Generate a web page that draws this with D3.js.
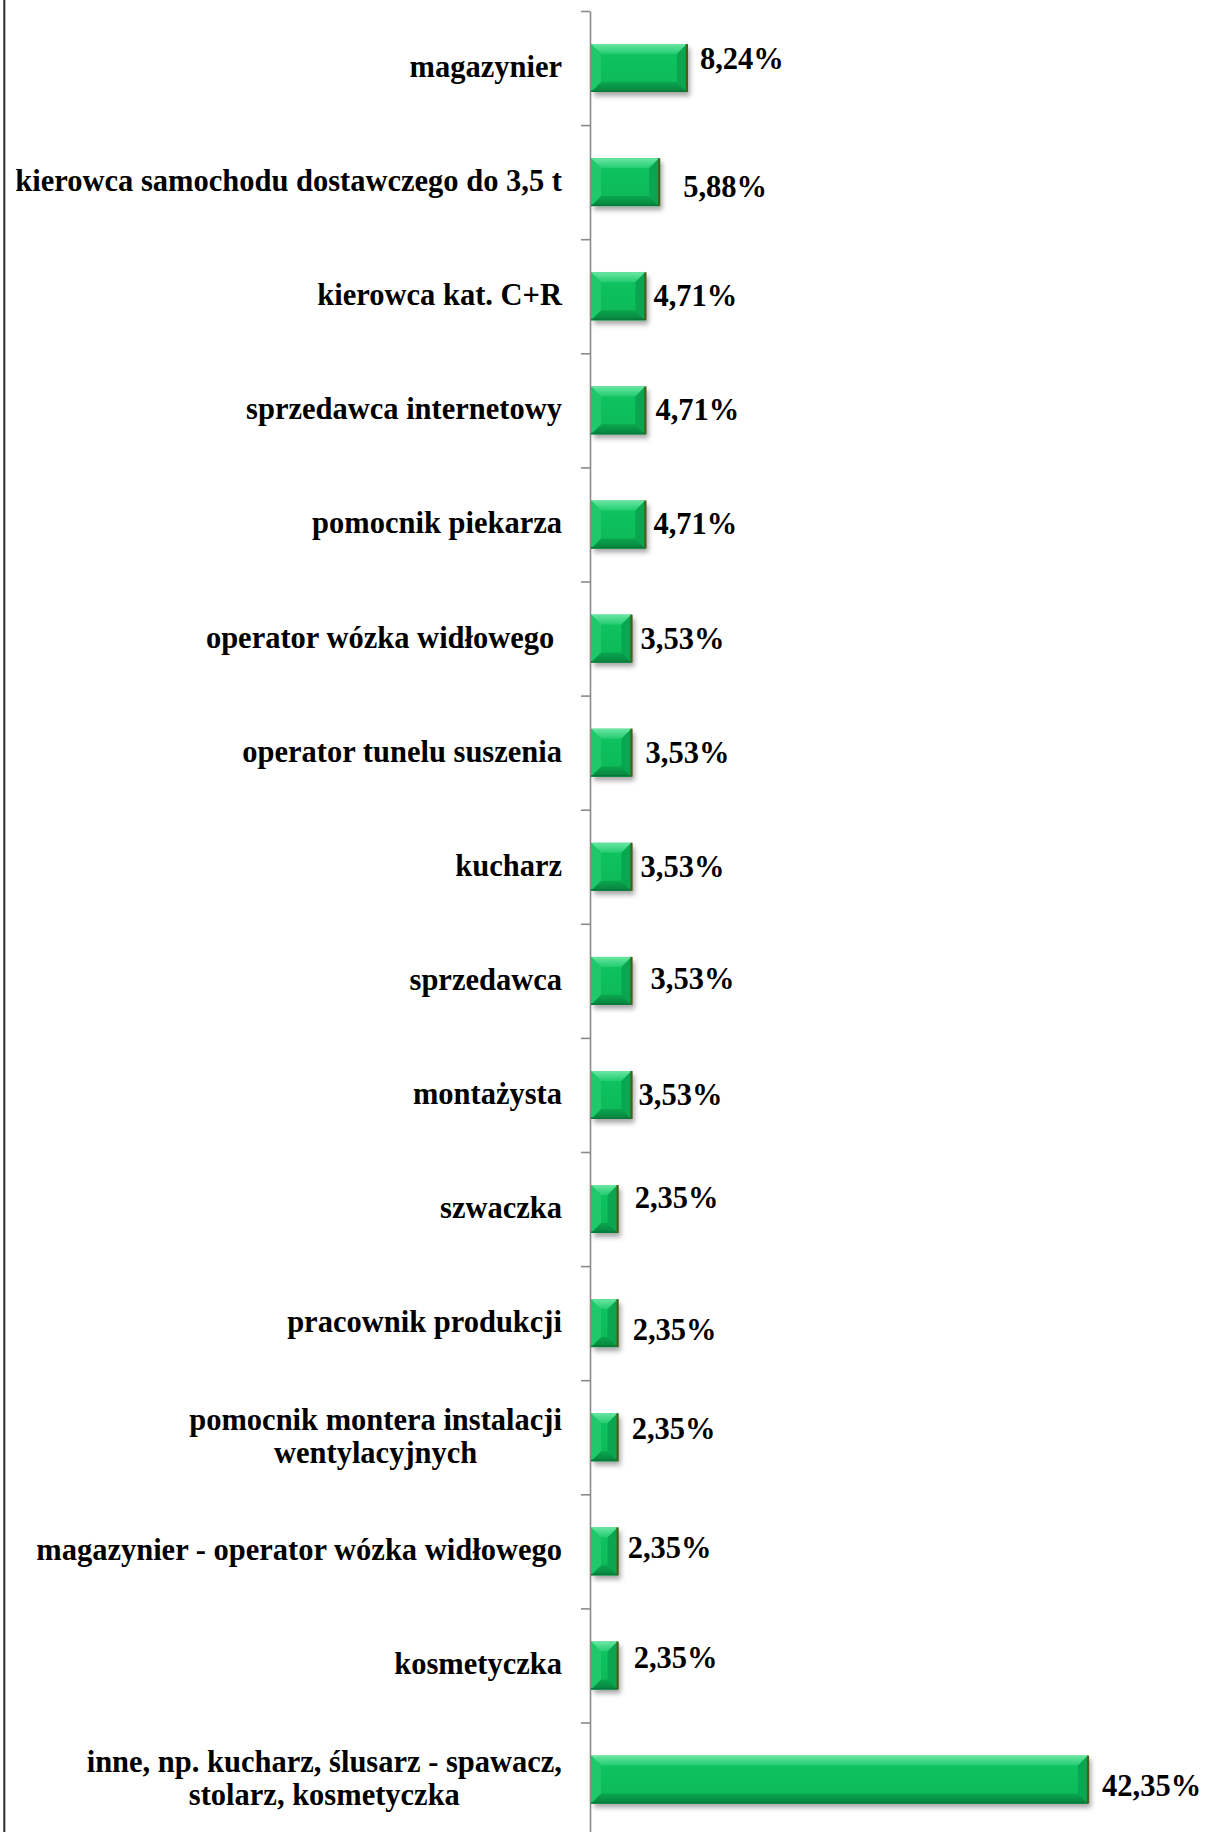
<!DOCTYPE html>
<html>
<head>
<meta charset="utf-8">
<script src="https://cdn.jsdelivr.net/npm/d3@7"></script>
<style>
  body { margin: 0; background: #fff; }
  text { font-family: "Liberation Serif", "Times New Roman", serif; font-weight: bold; fill: #000; }
</style>
</head>
<body>
<svg id="chart" width="1214" height="1832"></svg>
<script>
'use strict';

var categories = [
  'magazynier',
  'kierowca samochodu dostawczego do 3,5 t',
  'kierowca kat. C+R',
  'sprzedawca internetowy',
  'pomocnik piekarza',
  'operator wózka widłowego ',
  'operator tunelu suszenia',
  'kucharz',
  'sprzedawca',
  'montażysta',
  'szwaczka',
  'pracownik produkcji',
  'pomocnik montera instalacji\nwentylacyjnych',
  'magazynier - operator wózka widłowego',
  'kosmetyczka',
  'inne, np. kucharz, ślusarz - spawacz,\nstolarz, kosmetyczka'
];

var values = [8.24, 5.88, 4.71, 4.71, 4.71, 3.53, 3.53, 3.53, 3.53, 3.53, 2.35, 2.35, 2.35, 2.35, 2.35, 42.35];

// data labels were dragged around by hand in the original, [gap, dy]
var labelNudge = [[13, -9], [24, 5], [8, 0], [10, 0], [8, 0], [9, 0], [14, 0], [9, 0],
  [19, -2], [7, 0], [17, -11], [15, 7], [14, -8], [10, -3], [16, -7], [14, 6]];

var axisX = 590,
  plotTop = 11,
  step = 114.1,
  fontSize = 30.5,
  bevel = 10;

var svg = d3.select('#chart');
var defs = svg.append('defs');

function vGrad(id, c0, c1) {
  var gr = defs.append('linearGradient').attr('id', id)
    .attr('x1', 0).attr('y1', 0).attr('x2', 0).attr('y2', 1);
  gr.append('stop').attr('offset', '0%').attr('stop-color', c0);
  gr.append('stop').attr('offset', '100%').attr('stop-color', c1);
}
vGrad('gMain', '#12c562', '#0bb856');
vGrad('gTop', '#6ae6a3', '#22cc70');
vGrad('gBottom', '#0aa64f', '#07823e');

var shadow = defs.append('filter').attr('id', 'shadow')
  .attr('x', '-20%').attr('y', '-20%').attr('width', '150%').attr('height', '160%');
shadow.append('feDropShadow')
  .attr('dx', 3).attr('dy', 4).attr('stdDeviation', 2.5)
  .attr('flood-color', '#000').attr('flood-opacity', 0.35);

var y = d3.scaleBand()
  .domain(categories)
  .range([plotTop, plotTop + categories.length * step])
  .paddingInner(0.58)
  .paddingOuter(0.29);

var x = d3.scaleLinear()
  .domain([0, d3.max(values)])
  .range([0, 498]);

// left border of the plot frame
svg.append('line')
  .attr('x1', 4.3).attr('x2', 4.3)
  .attr('y1', 0).attr('y2', 1832)
  .attr('stroke', '#2b2b2b')
  .attr('stroke-width', 2);

// category axis, ticks sit between categories
var tickScale = d3.scaleLinear()
  .domain([0, categories.length])
  .range([plotTop, plotTop + categories.length * step]);

var axis = svg.append('g')
  .attr('transform', 'translate(' + axisX + ',0)')
  .call(d3.axisLeft(tickScale)
    .tickValues(d3.range(categories.length + 1))
    .tickSize(9)
    .tickSizeOuter(0)
    .tickFormat(''));
axis.selectAll('path, line')
  .attr('stroke', '#8a8a8a')
  .attr('stroke-width', 1.6);

// bars
var bars = svg.append('g').selectAll('g')
  .data(categories)
  .enter().append('g')
  .attr('class', 'bar');

bars.each(function(d, i) {
  var g = d3.select(this);
  var x0 = axisX + 1,
    x1 = axisX + x(values[i]),
    y0 = y(d),
    y1 = y(d) + y.bandwidth();
  var b = Math.min(bevel, (x1 - x0) / 2, (y1 - y0) / 2);

  g.append('rect')
    .attr('x', x0).attr('y', y0)
    .attr('width', x1 - x0).attr('height', y1 - y0)
    .attr('fill', 'url(#gMain)')
    .attr('filter', 'url(#shadow)');

  var faces = [
    { pts: [[x0, y0], [x1, y0], [x1 - b, y0 + b], [x0 + b, y0 + b]], fill: 'url(#gTop)' },
    { pts: [[x0, y1], [x1, y1], [x1 - b, y1 - b], [x0 + b, y1 - b]], fill: 'url(#gBottom)' },
    { pts: [[x0, y0], [x0 + b, y0 + b], [x0 + b, y1 - b], [x0, y1]], fill: '#1fc86b' },
    { pts: [[x1, y0], [x1 - b, y0 + b], [x1 - b, y1 - b], [x1, y1]], fill: '#0aa550' }
  ];
  g.selectAll('polygon')
    .data(faces)
    .enter().append('polygon')
    .attr('points', function(f) { return f.pts.join(' '); })
    .attr('fill', function(f) { return f.fill; });

  g.append('rect')
    .attr('x', x0).attr('y', y1 - 1.5)
    .attr('width', x1 - x0).attr('height', 1.5)
    .attr('fill', '#07793a');

  g.append('line')
    .attr('x1', x1).attr('x2', x1)
    .attr('y1', y0).attr('y2', y1)
    .attr('stroke', '#4a5e18')
    .attr('stroke-width', 2.2);
});

// value labels
var fmt = d3.format('.2f');
svg.append('g').selectAll('text')
  .data(categories)
  .enter().append('text')
  .attr('x', function(d, i) { return axisX + x(values[i]) + labelNudge[i][0]; })
  .attr('y', function(d, i) { return y(d) + y.bandwidth() / 2 + labelNudge[i][1] + 10; })
  .style('font-size', fontSize + 'px')
  .text(function(d, i) { return fmt(values[i]).replace('.', ',') + '%'; });

// category labels, right aligned, extra lines centred under the first
var labelRight = 562,
  lineH = 33;

svg.append('g').selectAll('text')
  .data(categories)
  .enter().append('text')
  .style('font-size', fontSize + 'px')
  .style('white-space', 'pre')
  .each(function(d) {
    var t = d3.select(this);
    var lines = d.split('\n');
    var cy = y(d) + y.bandwidth() / 2 + 9 - (lines.length - 1) * lineH / 2;
    if (lines.length === 1) {
      t.attr('text-anchor', 'end').attr('x', labelRight).attr('y', cy).text(d);
      return;
    }
    var spans = t.selectAll('tspan')
      .data(lines)
      .enter().append('tspan')
      .attr('y', function(l, j) { return cy + j * lineH; })
      .text(function(l) { return l; });
    var w = 0;
    spans.each(function() { w = Math.max(w, this.getComputedTextLength()); });
    spans.attr('text-anchor', 'middle').attr('x', labelRight - w / 2);
  });
</script>
</body>
</html>
